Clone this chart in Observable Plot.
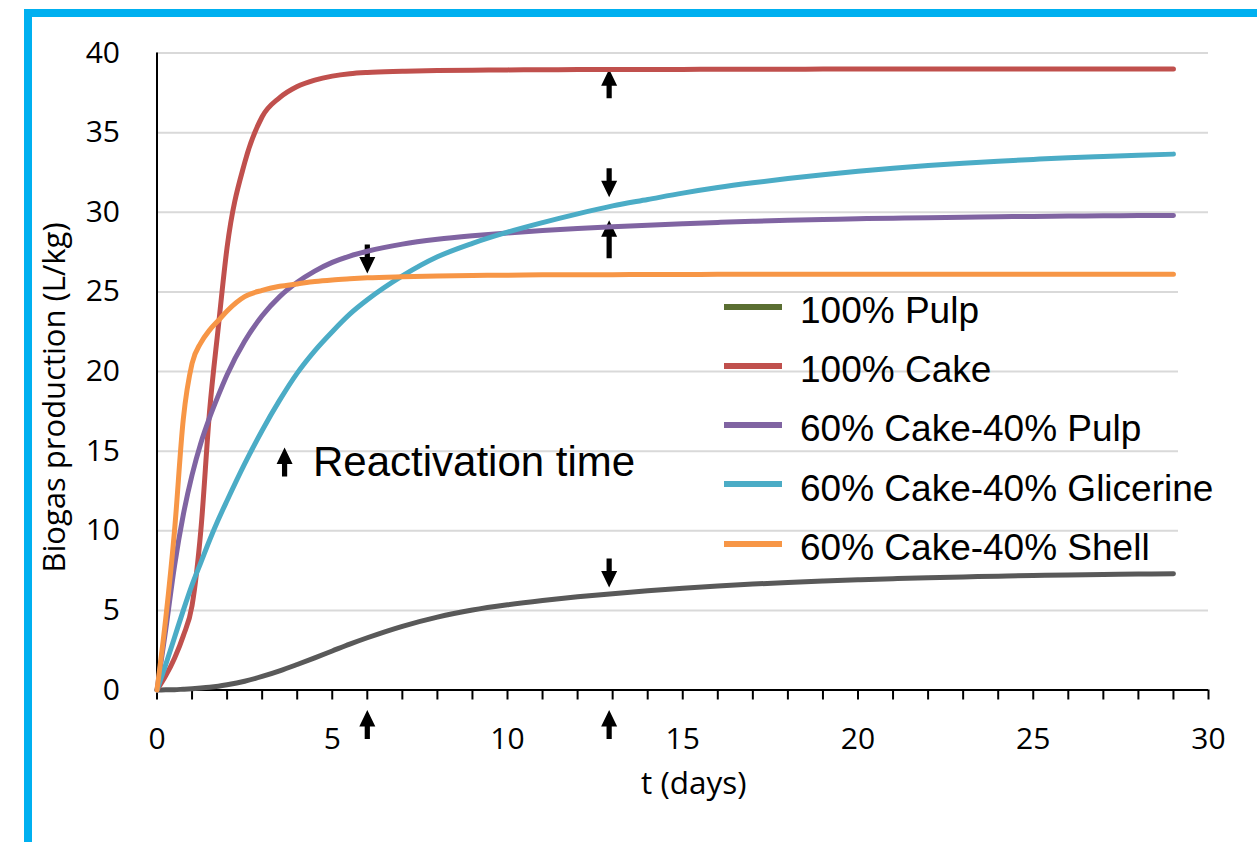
<!DOCTYPE html>
<html>
<head>
<meta charset="utf-8">
<script src="https://cdn.jsdelivr.net/npm/d3@7"></script>
<script src="https://cdn.jsdelivr.net/npm/@observablehq/plot@0.6"></script>
<style>
  html, body { margin: 0; padding: 0; background: white; overflow: hidden; }
  #wrap { position: relative; width: 1257px; height: 842px; overflow: hidden; background: white; }
  #chart { position: absolute; left: 0; top: 0; }
  #mask { position: absolute; left: 1178px; top: 283px; width: 79px; height: 292px; background: white; }
  #legend { position: absolute; left: 0; top: 0; width: 1257px; height: 842px; pointer-events: none; }
  #frame { position: absolute; left: 24px; top: 9px; width: 1400px; height: 1000px; box-sizing: border-box;
           border-left: 8px solid #00b0f0; border-top: 8px solid #00b0f0; pointer-events: none; }
  .lg-sw { position: absolute; height: 6px; width: 58px; left: 724px; }
  .lg-tx { position: absolute; left: 800px; font-family: "Liberation Sans", Arial, sans-serif; font-size: 37px; line-height: 37px; color: #000; white-space: nowrap; }
</style>
</head>
<body>
<div id="wrap">
  <div id="chart"></div>
  <div id="mask"></div>
  <div id="legend"></div>
  <div id="frame"></div>
</div>
<script>
// ---------------- data ----------------
const seriesNames = ["100% Pulp", "100% Cake", "60% Cake-40% Pulp", "60% Cake-40% Glicerine", "60% Cake-40% Shell"];
const days = [0, 0.25, 0.5, 0.75, 1, 1.25, 1.5, 1.75, 2, 2.5, 3, 3.5, 4, 4.5, 5, 5.5, 6, 7, 8, 9, 10,
              11, 12, 13, 14, 15, 16, 17, 18, 19, 20, 21, 22, 23, 24, 25, 26, 27, 28, 29];
const pulp = [0, 0.01, 0.02, 0.05, 0.08, 0.12, 0.17, 0.24, 0.33, 0.55, 0.85, 1.2, 1.6, 2.02, 2.45, 2.88, 3.28, 4.0, 4.58, 5.02, 5.35,
              5.62, 5.85, 6.05, 6.23, 6.39, 6.53, 6.65, 6.75, 6.84, 6.92, 6.99, 7.05, 7.1, 7.15, 7.19, 7.22, 7.25, 7.28, 7.3];
const cake = [0, 0.9, 2.0, 3.4, 5.3, 10.0, 17.5, 22.8, 27.8, 33.1, 36.0, 37.2, 37.9, 38.3, 38.55, 38.7, 38.78, 38.85, 38.9, 38.92, 38.94,
              38.95, 38.96, 38.96, 38.97, 38.97, 38.98, 38.98, 38.98, 38.99, 38.99, 38.99, 38.99, 39.0, 39.0, 39.0, 39.0, 39.0, 39.0, 39.0];
const cakePulp = [0, 3.8, 7.8, 11.0, 13.5, 15.5, 17.1, 18.5, 19.8, 21.9, 23.5, 24.7, 25.6, 26.3, 26.85, 27.25, 27.55, 28.0, 28.3, 28.52, 28.7,
                  28.85, 28.98, 29.09, 29.19, 29.28, 29.36, 29.43, 29.49, 29.54, 29.59, 29.63, 29.66, 29.69, 29.72, 29.74, 29.76, 29.78, 29.79, 29.8];
const cakeGlicerine = [0, 1.6, 3.3, 5.0, 6.6, 8.0, 9.4, 10.7, 11.9, 14.2, 16.3, 18.2, 19.9, 21.3, 22.5, 23.6, 24.5, 26.0, 27.2, 28.05, 28.75,
                       29.35, 29.9, 30.4, 30.8, 31.2, 31.55, 31.85, 32.12, 32.36, 32.57, 32.76, 32.93, 33.08, 33.21, 33.32, 33.42, 33.5, 33.58, 33.65];
const cakeShell = [0, 4.5, 10.0, 17.0, 20.5, 21.8, 22.6, 23.2, 23.8, 24.7, 25.1, 25.35, 25.5, 25.65, 25.75, 25.82, 25.88, 25.95, 26.0, 26.03, 26.05,
                   26.07, 26.08, 26.08, 26.09, 26.09, 26.1, 26.1, 26.1, 26.1, 26.1, 26.1, 26.1, 26.1, 26.1, 26.1, 26.1, 26.1, 26.1, 26.1];
const lineColors = ["#595959", "#c0504d", "#8064a2", "#4bacc6", "#f79646"];
const legendColors = ["#5a6e32", "#c0504d", "#8064a2", "#4bacc6", "#f79646"];

const xMajorTicks = [0, 5, 10, 15, 20, 25, 30];
const xMinorTicks = d3.range(0, 31, 1);
const yTicks = [0, 5, 10, 15, 20, 25, 30, 35, 40];
const yGrid = [5, 10, 15, 20, 25, 30, 35, 40];

// reactivation-time arrows (t in days, y in L/kg)
const arrowsUp = [{t: 12.9, v: 38.07}, {t: 6, v: -2.17}, {t: 12.9, v: -2.17}, {t: 3.64, v: 14.32}];
const arrowsUpLong = [{t: 12.9, v: 28.3}];
const arrowsDown = [{t: 12.9, v: 31.85}, {t: 6, v: 27.07}, {t: 12.9, v: 7.35}];
const annotation = [{t: 4.45, v: 13.43, label: "Reactivation time"}];
const xTitle = "t (days)";
const yTitle = "Biogas production (L/kg)";

// ---------------- build ----------------
const seriesValues = [pulp, cake, cakePulp, cakeGlicerine, cakeShell];
const rows = [];
seriesNames.forEach((name, i) => days.forEach((t, j) => rows.push({series: name, t, v: seriesValues[i][j]})));

const upShape = {draw(c) {
  c.moveTo(0, -14.5); c.lineTo(8, 2); c.lineTo(2.6, 2); c.lineTo(2.6, 14.5);
  c.lineTo(-2.6, 14.5); c.lineTo(-2.6, 2); c.lineTo(-8, 2); c.closePath();
}};
const upLongShape = {draw(c) {
  c.moveTo(0, -19); c.lineTo(8, -2.5); c.lineTo(2.6, -2.5); c.lineTo(2.6, 19);
  c.lineTo(-2.6, 19); c.lineTo(-2.6, -2.5); c.lineTo(-8, -2.5); c.closePath();
}};
const downShape = {draw(c) {
  c.moveTo(0, 14.5); c.lineTo(8, -2); c.lineTo(2.6, -2); c.lineTo(2.6, -14.5);
  c.lineTo(-2.6, -14.5); c.lineTo(-2.6, -2); c.lineTo(-8, -2); c.closePath();
}};

const chart = Plot.plot({
  width: 1257,
  height: 842,
  marginLeft: 156.5,
  marginRight: 49,
  marginTop: 52.5,
  marginBottom: 152.5,
  style: {fontFamily: "'Open Sans', sans-serif", fontSize: "30px", color: "#000", background: "white"},
  x: {domain: [0, 30]},
  y: {domain: [0, 40]},
  color: {domain: seriesNames, range: lineColors},
  marks: [
    Plot.ruleY(yGrid, {stroke: "#d9d9d9", strokeWidth: 2}),
    Plot.axisY(yTicks, {tickSize: 0, tickPadding: 37, label: null, fontSize: 30}),
    Plot.axisX(xMinorTicks, {tickSize: 10, strokeWidth: 2, tickFormat: () => "", label: null}),
    Plot.axisX(xMajorTicks, {tickSize: 0, tickPadding: 38, label: null, fontSize: 30}),
    Plot.ruleX([0], {y1: 0, y2: 40, stroke: "#000", strokeWidth: 2}),
    Plot.ruleY([0], {x1: 0, x2: 30, stroke: "#000", strokeWidth: 2}),
    Plot.text([xTitle], {frameAnchor: "bottom", dx: 11, dy: 103.5, lineAnchor: "bottom", fontSize: 31.5}),
    Plot.text([yTitle], {frameAnchor: "left", textAnchor: "middle", rotate: -90, dx: -114, dy: 26, lineAnchor: "top", fontSize: 31}),
    Plot.dot(arrowsUp, {x: "t", y: "v", symbol: upShape, r: 5, fill: "#000", stroke: "none"}),
    Plot.dot(arrowsUpLong, {x: "t", y: "v", symbol: upLongShape, r: 5, fill: "#000", stroke: "none"}),
    Plot.dot(arrowsDown, {x: "t", y: "v", symbol: downShape, r: 5, fill: "#000", stroke: "none"}),
    Plot.text(annotation, {x: "t", y: "v", text: "label", textAnchor: "start", lineAnchor: "bottom",
      fontFamily: "'Liberation Sans', Arial, sans-serif", fontSize: 42, fill: "#000"}),
    Plot.line(rows, {x: "t", y: "v", z: "series", stroke: "series", curve: "monotone-x",
      strokeWidth: 5, strokeLinecap: "round", strokeLinejoin: "round"})
  ]
});
document.getElementById("chart").appendChild(chart);

// legend
const legend = document.getElementById("legend");
seriesNames.forEach((name, i) => {
  const baseline = 323 + i * 59.3;
  const sw = document.createElement("div");
  sw.className = "lg-sw";
  sw.style.top = (baseline - 16.5 - 3) + "px";
  sw.style.background = legendColors[i];
  legend.appendChild(sw);
  const tx = document.createElement("div");
  tx.className = "lg-tx";
  tx.style.top = (baseline - 31.3) + "px";
  tx.textContent = name;
  legend.appendChild(tx);
});
</script>
</body>
</html>
